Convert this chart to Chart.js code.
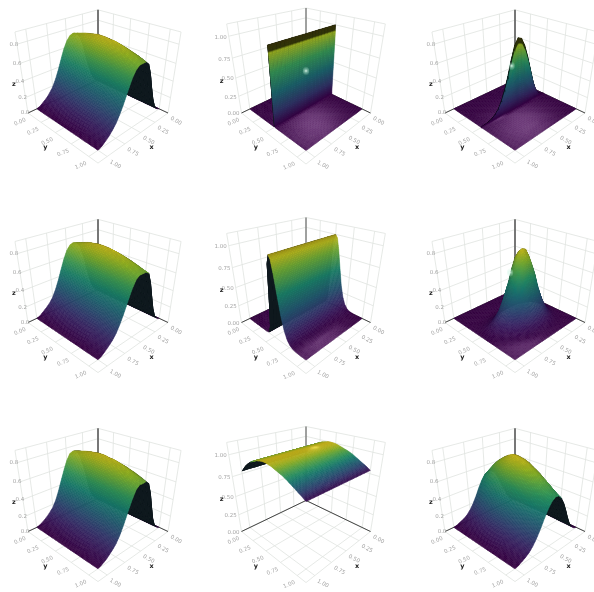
<!DOCTYPE html>
<html><head><meta charset="utf-8">
<script src="https://cdn.jsdelivr.net/npm/chart.js@4"></script>
<style>
html,body{margin:0;padding:0;background:#fff;width:594px;height:592px;overflow:hidden}
.cell{position:absolute;width:198px;height:197px}
canvas{filter:blur(0.45px)}
</style></head><body>
<div id="wrap"></div>
<script>
// ---------- data ----------
const knots=[0,.05,.1,.15,.2,.25,.3,.35,.4,.45,.5,.55,.6,.65,.7,.75,.8,.85,.9,.95,1];
const wallKnots=[0,.1,.2,.3,.4,.48,.49,.495,.5,.501,.502,.503,.504,.505,.51,.55,.6,.7,.8,.9,1];
const peakKnots=[0,.2,.3,.35,.4,.43,.45,.47,.5,.53,.56,.6,.64,.68,.72,.76,.8,.85,.9,1];
const flat=[1,1,1,1,1,1,1,1,1,1,1,1,1,1,1,1,1,1,1,1,1];
// ridge profile along x
const ridgeX1=[0,.03,.1,.24,.43,.65,.84,.96,1,.95,.85,.73,.59,.45,.33,.23,.16,.1,.06,.02,0];
const ridgeX4=[0,.03,.1,.24,.44,.66,.85,.96,1,.95,.85,.72,.58,.44,.32,.22,.15,.1,.06,.02,0];
const ridgeX7=[0,.03,.09,.22,.42,.64,.83,.96,1,.95,.83,.69,.55,.41,.29,.2,.14,.09,.05,.02,0];
const ridgeX9=[0,.03,.1,.22,.4,.6,.78,.91,.99,1,.95,.84,.69,.52,.37,.25,.16,.1,.06,.02,0];
const bumpX3=[0,.02,.06,.15,.3,.5,.7,.87,.98,1,.92,.75,.55,.38,.24,.14,.08,.04,.02,.01,0];
const bumpX6=[0,.02,.06,.15,.3,.5,.72,.88,.98,1,.94,.8,.62,.45,.31,.2,.12,.07,.03,.01,0];
const domeY1=[.9,.915,.93,.945,.96,.97,.98,.99,1,1,1,.995,.99,.98,.965,.95,.93,.91,.89,.865,.84];
const domeY4=[.9,.915,.93,.945,.96,.975,.985,.99,1,1,1,.995,.985,.975,.96,.945,.925,.905,.885,.86,.83];
const domeY7=[.91,.925,.94,.95,.965,.975,.985,.99,1,1,1,.99,.985,.97,.955,.94,.92,.9,.875,.85,.82];
const domeY9=[.64,.7,.76,.82,.87,.91,.95,.98,1,1,.99,.98,.96,.93,.9,.87,.83,.79,.75,.71,.68];
const wallY=[0,0,0,0,0,0,0,1,.93,.92,.7,.45,.2,.05,0,0,0,0,0,0,0];
const wallRim=[1,1,1,1,1,1,1,.34,.32,1,1,1,1,1,1,1,1,1,1,1,1];
const noRim20=[1,1,1,1,1,1,1,1,1,1,1,1,1,1,1,1,1,1,1,1];
const pulseY5=[0,0,0,0,.01,.12,.45,.9,1,.96,.82,.58,.35,.19,.09,.04,.015,.005,0,0];
const pulseY6=[0,0,0,0,0,0,.02,.1,.3,.65,.95,1,.88,.66,.42,.23,.1,.04,.015,.005,0];
const archY8=[.78,.83,.875,.91,.94,.96,.98,.99,1,1,.995,.985,.97,.955,.94,.92,.895,.87,.845,.82,.79];
const amps=[.82,1,.82,.82,1,.82,.82,1,.81];
const domeWeight=[6,0,0,6,0,0,6,0,0];
const xTickVals=[0,.25,.5,.75,1];
const xTickText=["0.00","0.25","0.50","0.75","1.00"];
const zTicksSmall=[0,.2,.4,.6,.8];
const zTicksSmallText=["0.0","0.2","0.4","0.6","0.8"];
const zTicksLarge=[0,.25,.5,.75,1];
const zTicksLargeText=["0.00","0.25","0.50","0.75","1.00"];
const xProfiles=[ridgeX1,flat,bumpX3,ridgeX4,flat,bumpX6,ridgeX7,flat,ridgeX9];
const yProfiles=[domeY1,wallY,wallY,domeY4,pulseY5,pulseY6,domeY7,archY8,domeY9];
const yGrids=[knots,wallKnots,wallKnots,knots,peakKnots,knots,knots,knots,knots];
const rims=[flat,wallRim,wallRim,flat,noRim20,flat,flat,flat,flat];
const glints=[null,[.5,.5,.55],[.55,.5,.55],null,null,[.62,.55,.62],null,null,null];
// ---------- view ----------
const cellX=[0,198,396],cellY=[0,197,394];
const cxRel=[98,108,119],cyRel=[113,125.5,137.5];
const views=[{A:70,B:39.8,C:68.3,a:.205,b:.157,zMax:.92},{A:64.5,B:38.6,C:72.4,a:.244,b:.187,zMax:1.13},{A:70,B:39.8,C:68.3,a:.205,b:.157,zMax:.92}];
const boxMax=1.12;
const viridis=[[68,1,84],[72,40,120],[62,74,137],[49,104,142],[38,130,142],[31,158,137],[53,183,121],[110,206,88],[181,222,43],[253,231,37]];
function cmap(t){t=Math.max(0,Math.min(1,t))*(viridis.length-1);const i=Math.min(viridis.length-2,Math.floor(t)),f=t-i;return viridis[i].map((c,k)=>c+(viridis[i+1][k]-c)*f);}
const lamp=[.22,.36,1],eye=[2.5,2.5,5.3],sun=[.5,.6,.62];
function norm(v){const l=Math.hypot(...v)||1;return v.map(c=>c/l);}
function dot(a,b){return a[0]*b[0]+a[1]*b[1]+a[2]*b[2];}

function buildPanel(idx){
  const col=idx%3,row=Math.floor(idx/3),V=views[col],cx=cxRel[col],cy=cyRel[row];
  const project=(wx,wy,wz)=>{const u=wx-.5,v=wy-.5,s=u+v,t=v-u,D=1-V.a*s-V.b*wz;return{x:cx+V.A*t/D,y:cy+(V.B*s-V.C*wz)/D};};
  const large=col===1,zT=large?zTicksLarge:zTicksSmall,zL=large?zTicksLargeText:zTicksSmallText;
  const xs=knots,ys=yGrids[idx],X=xProfiles[idx],Y=yProfiles[idx],amp=amps[idx],rim=rims[idx],dw=domeWeight[idx];
  const nx=xs.length,ny=ys.length,Z=[];
  let zmin=1e9,zmax=-1e9;
  for(let i=0;i<nx;i++){Z[i]=[];for(let j=0;j<ny;j++){
    const z=dw>0?amp*X[i]*(1-(1-Y[j])*Math.pow(X[i],dw)):amp*X[i]*Y[j];
    Z[i][j]=z;zmin=Math.min(zmin,z);zmax=Math.max(zmax,z);}}
  const surf=[];
  for(let i=0;i<nx;i++)for(let j=0;j<ny;j++)surf.push(project(xs[i]/boxMax,ys[j]/boxMax,Z[i][j]/V.zMax));
  if(glints[idx]){const g=glints[idx];surf.push(project(g[0]/boxMax,g[1]/boxMax,g[2]/V.zMax));}
  const colors=[];
  for(let i=0;i<nx;i++){colors[i]=[];for(let j=0;j<ny;j++){
    const i0=Math.max(0,i-1),i1=Math.min(nx-1,i+1),j0=Math.max(0,j-1),j1=Math.min(ny-1,j+1);
    const dzx=(Z[i1][j]-Z[i0][j])/V.zMax/((xs[i1]-xs[i0])/boxMax),dzy=(Z[i][j1]-Z[i][j0])/V.zMax/((ys[j1]-ys[j0])/boxMax);
    const N=norm([-dzx,-dzy,1]),P=[xs[i]/boxMax,ys[j]/boxMax,Z[i][j]/V.zMax];
    const L=norm(lamp.map((c,k)=>c-P[k])),E=norm(eye.map((c,k)=>c-P[k])),H=norm(L.map((c,k)=>c+E[k]));
    const diff=(.62+.2*Math.max(0,dot(N,norm(sun))))*rim[j];
    const spec=.24*Math.pow(Math.max(0,dot(N,H)),60);
    const base=cmap(zmax>zmin?(Z[i][j]-zmin)/(zmax-zmin):0);
    colors[i][j]=base.map(c=>Math.min(255,c*diff+255*spec*rim[j]));
  }}
  const gridLine=[],axisLine=[];
  const pushLine=(arr,a,b)=>{arr.push(project(...a),project(...b),{x:NaN,y:NaN});};
  const T=xTickVals.map(v=>v/boxMax),Zw=zT.map(v=>v/V.zMax);
  for(const t of T){
    pushLine(gridLine,[t,0,0],[t,1,0]);pushLine(gridLine,[0,t,0],[1,t,0]);
    pushLine(gridLine,[t,0,0],[t,0,1]);pushLine(gridLine,[0,t,0],[0,t,1]);
  }
  for(const w of Zw){pushLine(gridLine,[0,0,w],[1,0,w]);pushLine(gridLine,[0,0,w],[0,1,w]);}
  pushLine(gridLine,[1,0,0],[1,0,1]);pushLine(gridLine,[0,1,0],[0,1,1]);
  pushLine(gridLine,[0,0,1],[1,0,1]);pushLine(gridLine,[0,0,1],[0,1,1]);
  pushLine(gridLine,[1,0,0],[1,1,0]);pushLine(gridLine,[0,1,0],[1,1,0]);
  pushLine(axisLine,[0,0,0],[1,0,0]);pushLine(axisLine,[0,0,0],[0,1,0]);
  const zAxis=[project(0,0,0),project(0,0,1)];
  const c=document.createElement('canvas');c.width=198;c.height=197;
  const d=document.createElement('div');d.className='cell';d.style.left=cellX[col]+'px';d.style.top=cellY[row]+'px';
  d.appendChild(c);document.getElementById('wrap').appendChild(d);
  const surfacePlugin={id:'surface',afterDatasetDraw(chart,args){
    if(args.index!==0)return;
    const pts=args.meta.data,ctx=chart.ctx;const at=(i,j)=>pts[i*ny+j];
    ctx.save();ctx.lineWidth=.5;ctx.lineJoin='round';
    const lerp=(p,q,t)=>p+(q-p)*t;
    for(let i=0;i<nx-1;i++)for(let j=0;j<ny-1;j++){
      const a=at(i,j),b=at(i+1,j),e=at(i+1,j+1),f=at(i,j+1);
      const area=(e.x-a.x)*(f.y-b.y)-(e.y-a.y)*(f.x-b.x);
      if(area>0){
        ctx.beginPath();ctx.moveTo(a.x,a.y);ctx.lineTo(b.x,b.y);ctx.lineTo(e.x,e.y);ctx.lineTo(f.x,f.y);ctx.closePath();
        ctx.fillStyle='#0e181d';ctx.fill();ctx.fill();ctx.fill();continue;
      }
      const c00=colors[i][j],c10=colors[i+1][j],c11=colors[i+1][j+1],c01=colors[i][j+1];
      const m=Math.min(12,Math.max(1,Math.ceil(Math.max(Math.hypot(b.x-a.x,b.y-a.y),Math.hypot(e.x-f.x,e.y-f.y))/2)));
      const n=Math.min(30,Math.max(1,Math.ceil(Math.max(Math.hypot(f.x-a.x,f.y-a.y),Math.hypot(e.x-b.x,e.y-b.y))/2)));
      const pos=(p,q)=>{const ax=lerp(a.x,b.x,p),ay=lerp(a.y,b.y,p),fx=lerp(f.x,e.x,p),fy=lerp(f.y,e.y,p);return[lerp(ax,fx,q),lerp(ay,fy,q)];};
      for(let k=0;k<m;k++)for(let l=0;l<n;l++){
        const p0=k/m,p1=(k+1)/m,q0=l/n,q1=(l+1)/n,pm=(p0+p1)/2,qm=(q0+q1)/2;
        const col3=[0,1,2].map(h=>lerp(lerp(c00[h],c10[h],pm),lerp(c01[h],c11[h],pm),qm)|0);
        const s=`rgb(${col3[0]},${col3[1]},${col3[2]})`;
        ctx.beginPath();let P=pos(p0,q0);ctx.moveTo(P[0],P[1]);P=pos(p1,q0);ctx.lineTo(P[0],P[1]);P=pos(p1,q1);ctx.lineTo(P[0],P[1]);P=pos(p0,q1);ctx.lineTo(P[0],P[1]);ctx.closePath();
        ctx.fillStyle=ctx.strokeStyle=s;ctx.fill();ctx.stroke();
      }
    }
    if(glints[idx]){
      const g=pts[nx*ny],r=ctx.createRadialGradient(g.x,g.y,0,g.x,g.y,4.5);
      r.addColorStop(0,'rgba(235,255,245,.9)');r.addColorStop(.4,'rgba(200,245,225,.45)');r.addColorStop(1,'rgba(200,245,225,0)');
      ctx.fillStyle=r;ctx.beginPath();ctx.ellipse(g.x,g.y,3.2,4.5,0,0,Math.PI*2);ctx.fill();
    }
    ctx.restore();
  }};
  const labelPlugin={id:'ticklabels',afterDraw(chart){
    const ctx=chart.ctx,sx=chart.scales.x,sy=chart.scales.y;
    const put=(txt,p,dx,dy,rot,font,color)=>{ctx.save();ctx.translate(sx.getPixelForValue(p.x)+dx,sy.getPixelForValue(p.y)+dy);ctx.rotate(rot);ctx.font=font;ctx.fillStyle=color;ctx.textAlign='center';ctx.textBaseline='middle';ctx.fillText(txt,0,0);ctx.restore();};
    const f='5.5px "DejaVu Sans"',g='#a6a6a6',bf='bold 6.5px "DejaVu Sans"';
    xTickVals.forEach((v,k)=>{
      put(xTickText[k],project(v/boxMax,1,0),8,8,.5,f,g);
      put(xTickText[k],project(1,v/boxMax,0),-8,9,-.4,f,g);
    });
    zT.forEach((v,k)=>put(zL[k],project(1,0,v/V.zMax),large?-8:-3,large?1:0,0,f,g));
    put('x',project(.5/boxMax,1,0),11,15,0,bf,'#222');
    put('y',project(1,.5/boxMax,0),-10,15,0,bf,'#222');
    put('z',project(1,0,.5*zT[zT.length-1]/V.zMax),large?-14:-9,large?3:3,0,bf,'#222');
  }};
  new Chart(c,{type:'scatter',
    data:{datasets:[
      {label:'surface',data:surf,pointRadius:0,showLine:false},
      {label:'z axis',data:zAxis,showLine:true,pointRadius:0,borderColor:large?'#555':'#777',borderWidth:large?1:2},
      {label:'axes',data:axisLine,showLine:true,pointRadius:0,borderColor:'#444',borderWidth:1,spanGaps:false},
      {label:'grid',data:gridLine,showLine:true,pointRadius:0,borderColor:'#dfe3df',borderWidth:.8,spanGaps:false}
    ]},
    options:{responsive:false,animation:false,events:[],layout:{padding:0},
      plugins:{legend:{display:false},tooltip:{enabled:false}},
      scales:{x:{type:'linear',min:0,max:198,display:false},y:{type:'linear',min:0,max:197,reverse:true,display:false}}},
    plugins:[surfacePlugin,labelPlugin]});
}
for(let i=0;i<9;i++)buildPanel(i);
</script></body></html>
